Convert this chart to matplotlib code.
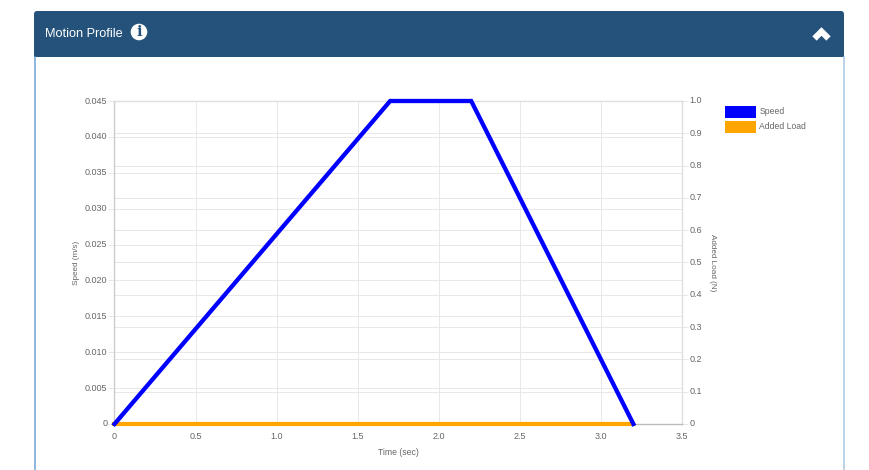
import matplotlib
matplotlib.use("Agg")
import matplotlib.pyplot as plt
from matplotlib.lines import Line2D
from matplotlib.patches import Circle, FancyBboxPatch, Rectangle

W = 870
H = 470
GREY = "#666666"
GRID = "#e8e8e8"
HEADER = "#24527a"

# data
time = [0, 1.7, 2.2, 3.2]
speed = [0, 0.045, 0.045, 0]
load_time = [0, 3.2]
added_load = [0, 0]
x_ticks = [0, 0.5, 1.0, 1.5, 2.0, 2.5, 3.0, 3.5]
x_labels = ["0", "0.5", "1.0", "1.5", "2.0", "2.5", "3.0", "3.5"]
speed_ticks = [0, 0.005, 0.010, 0.015, 0.020, 0.025, 0.030, 0.035, 0.040, 0.045]
speed_labels = ["0", "0.005", "0.010", "0.015", "0.020", "0.025", "0.030", "0.035", "0.040", "0.045"]
load_ticks = [0, 0.1, 0.2, 0.3, 0.4, 0.5, 0.6, 0.7, 0.8, 0.9, 1.0]
load_labels = ["0", "0.1", "0.2", "0.3", "0.4", "0.5", "0.6", "0.7", "0.8", "0.9", "1.0"]

plt.rcParams["font.family"] = ["Liberation Sans", "DejaVu Sans"]
plt.rcParams["ytick.alignment"] = "center"


def fx(px):
    return px / W


def fy(px):
    return 1 - px / H


fig = plt.figure(figsize=(W / 100, H / 100), dpi=100, facecolor="white")

##### CARD
fig.add_artist(Line2D([fx(34.5), fx(34.5)], [fy(57), 0], color="#6fa3d4", lw=1.1))
fig.add_artist(Line2D([fx(844), fx(844)], [fy(57), 0], color="#a9c6e0", lw=1.1))
fig.add_artist(FancyBboxPatch((34, H - 57), 810, 46, boxstyle="round,pad=0,rounding_size=3",
                              transform=None, fc=HEADER, ec="none"))
fig.add_artist(Rectangle((fx(34), fy(57)), fx(810), fy(50) - fy(57),
                         transform=fig.transFigure, fc=HEADER, ec="none"))
fig.text(fx(45), fy(34), "Motion Profile", color="white", fontsize=9.2, va="center", ha="left")
fig.add_artist(Circle((139, H - 32), 8.3, transform=None, fc="white", ec="none"))
fig.text(fx(139), fy(32), "i", color=HEADER, fontsize=10.5, fontweight="bold",
         family="DejaVu Serif", va="center", ha="center")
fig.add_artist(Line2D([fx(814.5), fx(821.5), fx(828.5)], [fy(38.5), fy(31.5), fy(38.5)],
                      color="white", lw=4.4, solid_joinstyle="miter", solid_capstyle="butt"))

##### PLOT
ax = fig.add_axes([fx(114.5), fy(424), fx(682 - 114.5), fy(101) - fy(424)])
ax2 = ax.twinx()

ax.set_xlim(0, 3.5)
ax.set_ylim(0, 0.045)
ax2.set_ylim(0, 1.0)

ax.set_xticks(x_ticks, x_labels)
ax.set_yticks(speed_ticks, speed_labels)
ax2.set_yticks(load_ticks, load_labels)

ax.grid(True, color=GRID, lw=0.72)
ax2.grid(True, color=GRID, lw=0.72)
ax.set_axisbelow(True)
ax2.set_axisbelow(True)

# right axis has to sit under the left one so both grids stay behind the lines
ax.set_zorder(ax2.get_zorder() + 1)
ax.patch.set_visible(False)

ax.plot(time, speed, color="#0000ff", lw=3.1, solid_joinstyle="miter", clip_on=False, zorder=4,
        label="Speed")
ax.plot(load_time, added_load, color="orange", lw=3.0, clip_on=False, zorder=3, label="Added Load")

for a in (ax, ax2):
    a.tick_params(axis="y", length=4.3, width=0.72, color=GRID, labelcolor=GREY, labelsize=6.5, pad=1)
    for side in a.spines.values():
        side.set_color("#e0e0e0")
        side.set_linewidth(0.9)
ax.tick_params(axis="x", length=0, labelcolor=GREY, labelsize=6.5, pad=5.8)
ax.spines["left"].set_color("#cccccc")
ax.spines["bottom"].set_color("#bbbbbb")

ax.set_xlabel("Time (sec)", fontsize=6.25, color=GREY)
ax.set_ylabel("Speed (m/s)", fontsize=5.9, color=GREY, va="center")
ax2.set_ylabel("Added Load (N)", fontsize=5.85, color=GREY, rotation=270, va="center")
ax.xaxis.set_label_coords(0.5, -0.073)
ax.yaxis.set_label_coords(-0.0665, 0.5)
ax2.yaxis.set_label_coords(1.053, 0.5)

##### LEGEND
legend_names = ["Speed", "Added Load"]
legend_colors = ["#0000ff", "orange"]
legend_rows = [112, 127]
for name, colour, row in zip(legend_names, legend_colors, legend_rows):
    fig.add_artist(Rectangle((fx(725.5), fy(row + 6)), fx(31), fy(row - 6) - fy(row + 6),
                             transform=fig.transFigure, fc=colour, ec="none"))
    fig.text(fx(759.5), fy(row - 0.5), name, color=GREY, fontsize=6.2, va="center", ha="left")

plt.savefig("out.png", dpi=100)
